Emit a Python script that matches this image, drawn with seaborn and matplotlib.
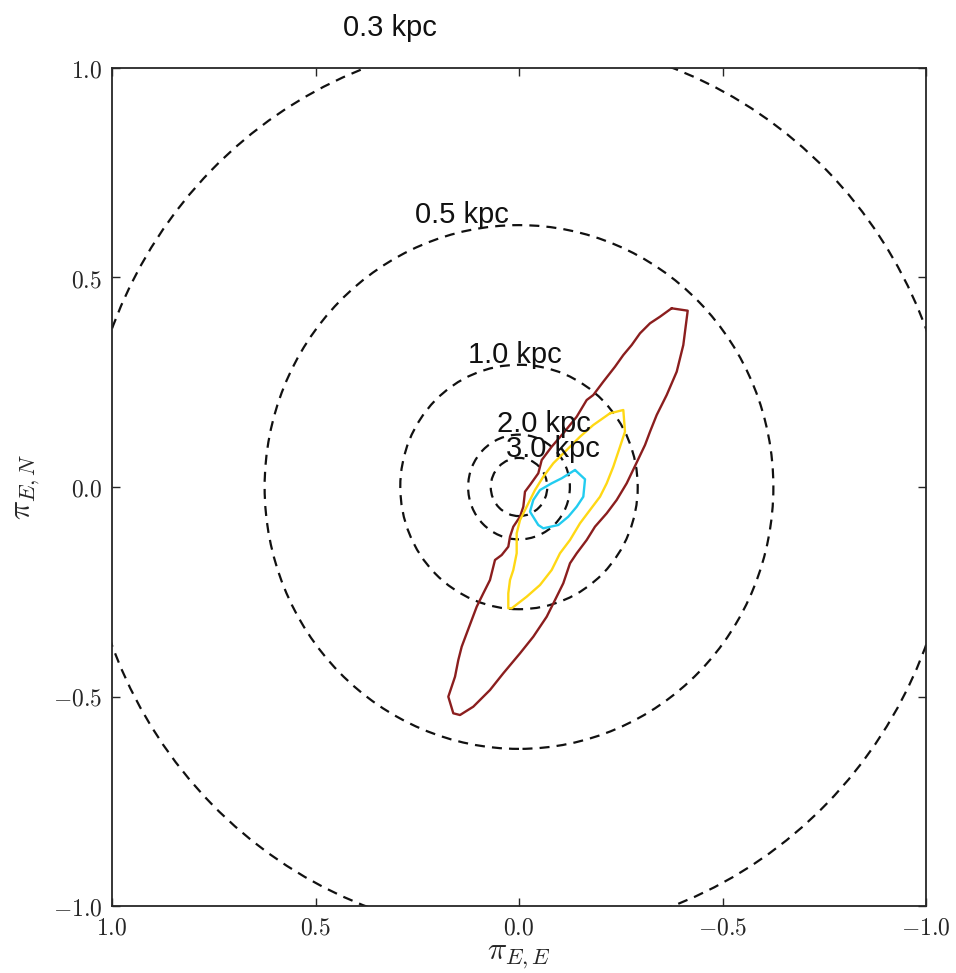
import numpy as np
import pandas as pd
import matplotlib
matplotlib.use("Agg")
import matplotlib.pyplot as plt
from matplotlib.patches import Circle
from matplotlib.ticker import FuncFormatter
import seaborn as sns

# Distance circles (kpc) and their radii in the pi_E plane
distances = [0.3, 0.5, 1.0, 2.0, 3.0]
radii = [1.069, 0.625, 0.2917, 0.125, 0.0694]
label_x = [0.317, 0.140, 0.009, -0.061, -0.084]
label_y = [1.095, 0.649, 0.315, 0.150, 0.091]

# Contour outlines (pi_E,E, pi_E,N)
red_x = [-0.375, -0.4145, -0.4037, -0.3875, -0.3629, -0.3383, -0.3219, -0.3096, -0.2850, -0.2646,
         -0.2400, -0.2155, -0.1867, -0.1663, -0.1418, -0.1253, -0.1088, -0.0885, -0.0681, -0.0351,
         -0.0025, 0.0386, 0.0713, 0.1123, 0.1450, 0.1614, 0.1737, 0.1572, 0.1491, 0.1408,
         0.1285, 0.1162, 0.1039, 0.0877, 0.0713, 0.0590, 0.0425, 0.0263, 0.0221, 0.0140,
         -0.0025, -0.0106, -0.0147, -0.0270, -0.0474, -0.0558, -0.0803, -0.1088, -0.1418, -0.1663,
         -0.1826, -0.2071, -0.2359, -0.2563, -0.2769, -0.2973, -0.3219, -0.3464, -0.375]
red_y = [0.4265, 0.4208, 0.3389, 0.2752, 0.2196, 0.1718, 0.1320, 0.1002, 0.0501, 0.0088,
         -0.0310, -0.0628, -0.0947, -0.1265, -0.1582, -0.1821, -0.2298, -0.2697, -0.3095, -0.3573,
         -0.3969, -0.4446, -0.4845, -0.5243, -0.5442, -0.5401, -0.5005, -0.4527, -0.4129, -0.3811,
         -0.3492, -0.3174, -0.2857, -0.2537, -0.2220, -0.1742, -0.1623, -0.1425, -0.1186, -0.0947,
         -0.0709, -0.0470, -0.0112, 0.0048, 0.0327, 0.0644, 0.0962, 0.1282, 0.1678, 0.2076,
         0.2196, 0.2513, 0.2871, 0.3150, 0.3389, 0.3668, 0.3907, 0.4064, 0.4265]

yellow_x = [-0.2236, -0.2563, -0.2604, -0.2482, -0.2317, -0.2155, -0.1990, -0.1744, -0.1499, -0.1253,
            -0.1007, -0.0803, -0.0516, -0.0189, 0.0179, 0.0263, 0.0263, 0.0221, 0.0140, 0.0057,
            0.0057, -0.0025, -0.0189, -0.0393, -0.0597, -0.0843, -0.1172, -0.1499, -0.1826, -0.2236]
yellow_y = [0.1759, 0.1838, 0.1320, 0.0962, 0.0484, 0.0088, -0.0232, -0.0549, -0.0866, -0.1265,
            -0.1582, -0.1981, -0.2339, -0.2618, -0.2895, -0.2895, -0.2537, -0.2220, -0.1981, -0.1582,
            -0.1105, -0.0788, -0.0470, -0.0072, 0.0246, 0.0566, 0.0883, 0.1200, 0.1480, 0.1759]

cyan_x = [-0.1376, -0.1622, -0.1580, -0.1418, -0.1211, -0.0966, -0.0597, -0.0474, -0.0270, -0.0351,
          -0.0516, -0.0803, -0.1049, -0.1376]
cyan_y = [0.0406, 0.0184, -0.0232, -0.0470, -0.0709, -0.0907, -0.0986, -0.0907, -0.0589, -0.0310,
          -0.0072, 0.0088, 0.0208, 0.0406]

ticks = [-1.0, -0.5, 0.0, 0.5, 1.0]

sns.set_style("ticks")
plt.rcParams["mathtext.fontset"] = "cm"
plt.rcParams["font.family"] = ["DejaVu Sans"]

fig = plt.figure(figsize=(9.56, 9.73), dpi=100)
ax = fig.add_axes([112 / 956, 1 - 906 / 973, (926 - 112) / 956, (906 - 68) / 973])

for r in radii:
    ax.add_patch(Circle((0, 0), r, fill=False, ls=(0, (4.5, 3.2)), lw=1.6, color="#111111", zorder=1))

for xs, ys, col in [(red_x, red_y, "#8B1E1E"), (yellow_x, yellow_y, "#FFD814"), (cyan_x, cyan_y, "#22CCF0")]:
    df = pd.DataFrame({"x": xs, "y": ys})
    sns.lineplot(data=df, x="x", y="y", sort=False, estimator=None, color=col, lw=1.7, ax=ax, zorder=3)

for d, lx, ly in zip(distances, label_x, label_y):
    ax.text(lx, ly, f"{d:.1f} kpc", ha="center", va="center", fontsize=21,
            family=["Liberation Sans", "DejaVu Sans"], color="#111111", clip_on=False, zorder=4)

ax.set_xlim(1.0, -1.0)
ax.set_ylim(-1.0, 1.0)
ax.set_xticks(ticks)
ax.set_yticks(ticks)
fmt = FuncFormatter(lambda v, p: "$" + f"{v:.1f}" + "$")
ax.xaxis.set_major_formatter(fmt)
ax.yaxis.set_major_formatter(fmt)
ax.tick_params(direction="in", length=6, width=1, labelsize=17, pad=7,
               top=True, right=True, bottom=True, left=True)
for s in ax.spines.values():
    s.set_linewidth(1.3)
    s.set_visible(True)

ax.set_xlabel(r"$\pi_{E,E}$", fontsize=23, labelpad=0)
ax.set_ylabel(r"$\pi_{E,N}$", fontsize=23, labelpad=8)

fig.savefig("out.png", dpi=100, facecolor="white")
